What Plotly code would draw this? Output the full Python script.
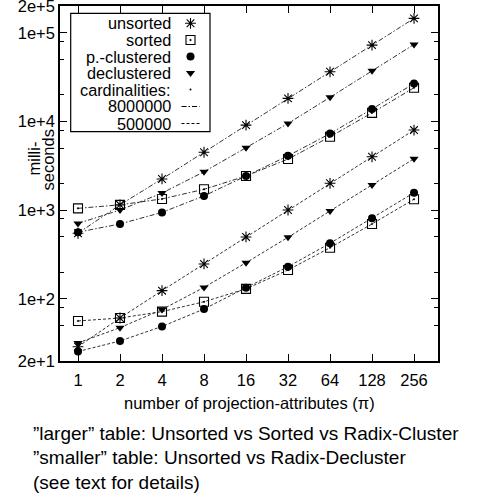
import plotly.graph_objects as go

# ---- data ----
projections = [1, 2, 4, 8, 16, 32, 64, 128, 256]
x_tick_labels = ["1", "2", "4", "8", "16", "32", "64", "128", "256"]
y_tick_vals = [20, 100, 1000, 10000, 100000, 200000]
y_tick_labels = ["2e+1", "1e+2", "1e+3", "1e+4", "1e+5", "2e+5"]
y_minor_vals = [50, 80, 200, 500, 800, 2000, 5000, 8000, 20000, 50000, 80000]

large_unsorted = [550, 1150, 2250, 4500, 9100, 18200, 36300, 72500, 145000]
large_sorted = [1050, 1150, 1340, 1720, 2430, 3770, 6730, 12500, 24000]
large_pclustered = [565, 700, 945, 1450, 2430, 4100, 7300, 13800, 26800]
large_declustered = [710, 1005, 1560, 2710, 5060, 9500, 18700, 37200, 73800]

small_unsorted = [29, 61, 124, 248, 500, 1005, 2010, 4000, 8000]
small_sorted = [56.5, 61, 72, 93, 130, 212, 378, 700, 1330]
small_pclustered = [25.6, 33.6, 49, 77, 134, 231, 424, 811, 1575]
small_declustered = [32, 47.5, 76, 135, 256, 495, 980, 1920, 3800]

series_names = ["unsorted", "sorted", "p.-clustered", "declustered"]
card_names = ["8000000", "500000"]

FONT = "Liberation Sans, Arial, Helvetica, sans-serif"
INK = "black"
LINE_INK = "#333333"

W, H = 486, 497
# plot area in page pixels
PL, PR, PT, PB = 60, 438, 6, 361


def px(xp):
    return (xp - PL) / (PR - PL)


def py(yp):
    return (PB - yp) / (PB - PT)


symbols = {
    "unsorted": dict(symbol="asterisk-open", size=9, line=dict(width=1.1, color=INK), color=INK),
    "sorted": dict(symbol="square-open-dot", size=9, line=dict(width=1.1, color=INK), color=INK),
    "p.-clustered": dict(symbol="circle", size=8, color=INK, line=dict(width=0)),
    "declustered": dict(symbol="triangle-down", size=8, color=INK, line=dict(width=0)),
}
dashes = {"8000000": "5px,2px,1.5px,2px", "500000": "3px,2px"}

data = {
    "8000000": [large_unsorted, large_sorted, large_pclustered, large_declustered],
    "500000": [small_unsorted, small_sorted, small_pclustered, small_declustered],
}

fig = go.Figure()
for card in card_names:
    for name, vals in zip(series_names, data[card]):
        fig.add_trace(go.Scatter(
            x=projections, y=vals, mode="lines+markers",
            line=dict(color=LINE_INK, width=1, dash=dashes[card]),
            marker=symbols[name], showlegend=False, name=f"{name} {card}",
        ))

# ---- manual legend (gnuplot style: text right-aligned, key on the right) ----
leg_rows_y = [23.3, 40, 56.5, 73, 89.5, 106.5, 123.5]
leg_text_x = 172
leg_key_x = 190.5
for i, name in enumerate(series_names):
    fig.add_trace(go.Scatter(x=[px(leg_key_x)], y=[py(leg_rows_y[i])], mode="markers",
                             marker=symbols[name], xaxis="x2", yaxis="y2",
                             showlegend=False, hoverinfo="skip"))
fig.add_trace(go.Scatter(x=[px(leg_key_x)], y=[py(leg_rows_y[4])], mode="markers",
                         marker=dict(size=2, color=INK), xaxis="x2", yaxis="y2",
                         showlegend=False, hoverinfo="skip"))
for j, card in enumerate(card_names):
    fig.add_trace(go.Scatter(x=[px(181.5), px(199.5)], y=[py(leg_rows_y[5 + j])] * 2,
                             mode="lines", line=dict(color=INK, width=1, dash=dashes[card]),
                             xaxis="x2", yaxis="y2", showlegend=False, hoverinfo="skip"))

legend_labels = series_names + ["cardinalities:"] + card_names
annotations = []
for lbl, yy in zip(legend_labels, leg_rows_y):
    annotations.append(dict(text=lbl, x=px(leg_text_x), y=py(yy), xref="paper", yref="paper",
                            xanchor="right", yanchor="middle", showarrow=False, borderpad=0,
                            font=dict(size=16.3, family=FONT, color=INK)))

# axis titles
annotations.append(dict(text="number of projection-attributes (π)", x=px(249.5), y=py(403),
                        xref="paper", yref="paper", xanchor="center", yanchor="middle",
                        showarrow=False, font=dict(size=16.5, family=FONT, color=INK)))
annotations.append(dict(text="milli-", x=px(33.5), y=py(159), xref="paper", yref="paper",
                        textangle=-90, xanchor="center", yanchor="middle", showarrow=False,
                        font=dict(size=16.5, family=FONT, color=INK)))
annotations.append(dict(text="seconds", x=px(47.5), y=py(160), xref="paper", yref="paper",
                        textangle=-90, xanchor="center", yanchor="middle", showarrow=False,
                        font=dict(size=16.5, family=FONT, color=INK)))
# caption
caption = ["”larger” table: Unsorted vs Sorted vs Radix-Cluster",
           "”smaller” table: Unsorted vs Radix-Decluster",
           "(see text for details)"]
for line, yy in zip(caption, [433, 457.5, 482]):
    annotations.append(dict(text=line, x=px(31), y=py(yy), xref="paper", yref="paper",
                            xanchor="left", yanchor="middle", showarrow=False,
                            font=dict(size=19, family=FONT, color=INK)))

shapes = [dict(type="rect", xref="paper", yref="paper",
               x0=px(70.7), x1=px(210), y0=py(13.3), y1=py(131.7),
               line=dict(color=INK, width=1.2), fillcolor="white", layer="below")]

fig.update_layout(
    width=W, height=H,
    margin=dict(l=PL, r=W - PR, t=PT, b=H - PB, autoexpand=False),
    paper_bgcolor="white", plot_bgcolor="white",
    font=dict(family=FONT, size=16.5, color=INK),
    showlegend=False,
    annotations=annotations,
    shapes=shapes,
    xaxis=dict(type="log", range=[-0.129, 2.580], tickmode="array",
               tickvals=projections, ticktext=x_tick_labels, automargin=False,
               ticks="inside", ticklen=7, tickwidth=1, tickcolor=INK,
               showline=True, linecolor=INK, linewidth=1.5, mirror="allticks",
               showgrid=False, zeroline=False, tickfont=dict(size=16.5),
               ticklabelstandoff=3, ticklabeloverflow="allow"),
    yaxis=dict(type="log", range=[1.30102, 5.30104], tickmode="array",
               tickvals=y_tick_vals, ticktext=y_tick_labels, automargin=False,
               ticks="inside", ticklen=7, tickwidth=1, tickcolor=INK,
               showline=True, linecolor=INK, linewidth=1.5, mirror="allticks",
               showgrid=False, zeroline=False, tickfont=dict(size=16.5),
               ticklabeloverflow="allow",
               minor=dict(tickmode="array", tickvals=y_minor_vals, ticks="inside",
                          ticklen=4, tickwidth=1, tickcolor=INK, showgrid=False)),
    xaxis2=dict(overlaying="x", range=[0, 1], visible=False, fixedrange=True),
    yaxis2=dict(overlaying="y", range=[0, 1], visible=False, fixedrange=True),
)

# remove the default 8px page margin so the figure sits at the window's corner
fig.write_html("out.html", config={"displayModeBar": False},
               post_script="document.body.style.margin='0';")
